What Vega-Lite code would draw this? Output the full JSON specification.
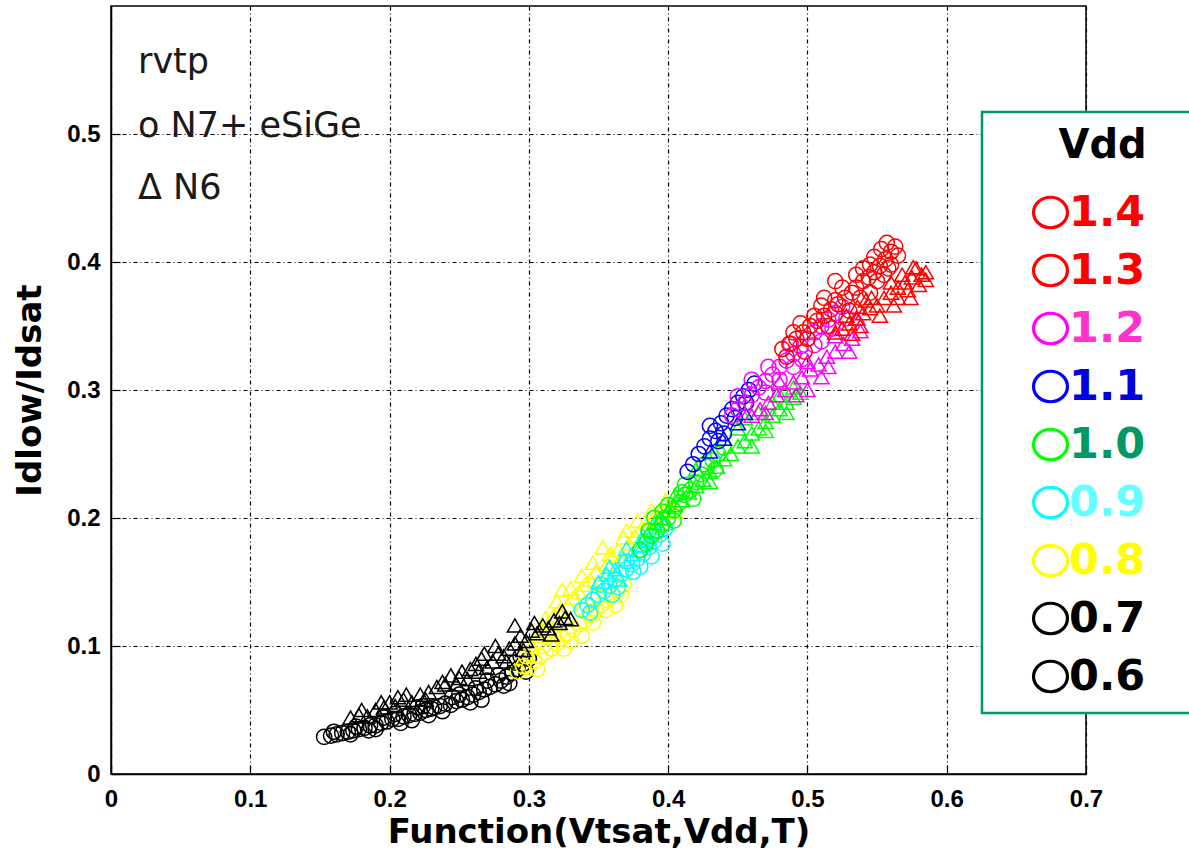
{
  "$schema": "https://vega.github.io/schema/vega-lite/v6.json",
  "width": 975,
  "height": 768,
  "autosize": {"type": "none"},
  "padding": {"left": 111, "top": 6, "right": 103, "bottom": 83},
  "background": "white",
  "config": {
    "view": {"stroke": "black", "strokeWidth": 1.5},
    "legend": {"strokeWidth": 2.5},
    "axis": {
      "domainColor": "black", "domainWidth": 1.5,
      "grid": true, "gridColor": "black", "gridDash": [4, 3, 1, 3], "gridWidth": 1.2, "gridOpacity": 1,
      "ticks": true, "tickSize": -9, "tickColor": "black", "tickWidth": 1.2,
      "labelFont": "Liberation Sans", "labelFontSize": 24, "labelFontWeight": "bold", "labelColor": "black",
      "labelFlush": false, "labelOverlap": false,
      "titleFont": "DejaVu Sans", "titleFontSize": 34, "titleFontWeight": "bold", "titleColor": "black"
    }
  },
  "layer": [
    {
      "data": {"values": [
        {"vdd":"0.6","dev":"N7+ eSiGe","x":0.153,"y":0.029},{"vdd":"0.6","dev":"N7+ eSiGe","x":0.158,"y":0.030},{"vdd":"0.6","dev":"N7+ eSiGe","x":0.162,"y":0.031},{"vdd":"0.6","dev":"N7+ eSiGe","x":0.166,"y":0.032},{"vdd":"0.6","dev":"N7+ eSiGe","x":0.170,"y":0.033},{"vdd":"0.6","dev":"N7+ eSiGe","x":0.174,"y":0.034},{"vdd":"0.6","dev":"N7+ eSiGe","x":0.178,"y":0.035},{"vdd":"0.6","dev":"N7+ eSiGe","x":0.182,"y":0.036},{"vdd":"0.6","dev":"N7+ eSiGe","x":0.186,"y":0.038},{"vdd":"0.6","dev":"N7+ eSiGe","x":0.190,"y":0.038},{"vdd":"0.6","dev":"N7+ eSiGe","x":0.194,"y":0.040},{"vdd":"0.6","dev":"N7+ eSiGe","x":0.198,"y":0.041},{"vdd":"0.6","dev":"N7+ eSiGe","x":0.202,"y":0.043},{"vdd":"0.6","dev":"N7+ eSiGe","x":0.206,"y":0.043},{"vdd":"0.6","dev":"N7+ eSiGe","x":0.210,"y":0.045},{"vdd":"0.6","dev":"N7+ eSiGe","x":0.214,"y":0.046},{"vdd":"0.6","dev":"N7+ eSiGe","x":0.218,"y":0.047},{"vdd":"0.6","dev":"N7+ eSiGe","x":0.222,"y":0.048},{"vdd":"0.6","dev":"N7+ eSiGe","x":0.226,"y":0.050},{"vdd":"0.6","dev":"N7+ eSiGe","x":0.230,"y":0.051},{"vdd":"0.6","dev":"N7+ eSiGe","x":0.172,"y":0.031},{"vdd":"0.6","dev":"N7+ eSiGe","x":0.185,"y":0.034},{"vdd":"0.6","dev":"N7+ eSiGe","x":0.196,"y":0.044},{"vdd":"0.6","dev":"N7+ eSiGe","x":0.208,"y":0.040},{"vdd":"0.6","dev":"N7+ eSiGe","x":0.220,"y":0.052},{"vdd":"0.6","dev":"N7+ eSiGe","x":0.228,"y":0.046},{"vdd":"0.6","dev":"N7+ eSiGe","x":0.160,"y":0.033},{"vdd":"0.6","dev":"N7+ eSiGe","x":0.176,"y":0.037},{"vdd":"0.6","dev":"N7+ eSiGe","x":0.190,"y":0.035},{"vdd":"0.6","dev":"N7+ eSiGe","x":0.204,"y":0.047},{"vdd":"0.6","dev":"N7+ eSiGe","x":0.216,"y":0.042},{"vdd":"0.6","dev":"N7+ eSiGe","x":0.224,"y":0.053},
        {"vdd":"0.6","dev":"N6","x":0.172,"y":0.044},{"vdd":"0.6","dev":"N6","x":0.178,"y":0.046},{"vdd":"0.6","dev":"N6","x":0.184,"y":0.045},{"vdd":"0.6","dev":"N6","x":0.190,"y":0.050},{"vdd":"0.6","dev":"N6","x":0.196,"y":0.052},{"vdd":"0.6","dev":"N6","x":0.200,"y":0.056},{"vdd":"0.6","dev":"N6","x":0.204,"y":0.053},{"vdd":"0.6","dev":"N6","x":0.210,"y":0.058},{"vdd":"0.6","dev":"N6","x":0.216,"y":0.056},{"vdd":"0.6","dev":"N6","x":0.222,"y":0.062},{"vdd":"0.6","dev":"N6","x":0.228,"y":0.064},{"vdd":"0.6","dev":"N6","x":0.234,"y":0.068},{"vdd":"0.6","dev":"N6","x":0.238,"y":0.072},{"vdd":"0.6","dev":"N6","x":0.244,"y":0.077},{"vdd":"0.6","dev":"N6","x":0.248,"y":0.070},{"vdd":"0.6","dev":"N6","x":0.252,"y":0.080},{"vdd":"0.6","dev":"N6","x":0.256,"y":0.074},{"vdd":"0.6","dev":"N6","x":0.206,"y":0.060},{"vdd":"0.6","dev":"N6","x":0.180,"y":0.050},{"vdd":"0.6","dev":"N6","x":0.194,"y":0.056},{"vdd":"0.6","dev":"N6","x":0.212,"y":0.062},{"vdd":"0.6","dev":"N6","x":0.226,"y":0.058},{"vdd":"0.6","dev":"N6","x":0.240,"y":0.070},{"vdd":"0.6","dev":"N6","x":0.250,"y":0.075},
        {"vdd":"0.7","dev":"N7+ eSiGe","x":0.232,"y":0.052},{"vdd":"0.7","dev":"N7+ eSiGe","x":0.236,"y":0.053},{"vdd":"0.7","dev":"N7+ eSiGe","x":0.240,"y":0.055},{"vdd":"0.7","dev":"N7+ eSiGe","x":0.244,"y":0.054},{"vdd":"0.7","dev":"N7+ eSiGe","x":0.248,"y":0.057},{"vdd":"0.7","dev":"N7+ eSiGe","x":0.252,"y":0.058},{"vdd":"0.7","dev":"N7+ eSiGe","x":0.256,"y":0.060},{"vdd":"0.7","dev":"N7+ eSiGe","x":0.260,"y":0.062},{"vdd":"0.7","dev":"N7+ eSiGe","x":0.264,"y":0.064},{"vdd":"0.7","dev":"N7+ eSiGe","x":0.268,"y":0.066},{"vdd":"0.7","dev":"N7+ eSiGe","x":0.272,"y":0.068},{"vdd":"0.7","dev":"N7+ eSiGe","x":0.276,"y":0.070},{"vdd":"0.7","dev":"N7+ eSiGe","x":0.280,"y":0.073},{"vdd":"0.7","dev":"N7+ eSiGe","x":0.284,"y":0.076},{"vdd":"0.7","dev":"N7+ eSiGe","x":0.288,"y":0.079},{"vdd":"0.7","dev":"N7+ eSiGe","x":0.292,"y":0.082},{"vdd":"0.7","dev":"N7+ eSiGe","x":0.296,"y":0.086},{"vdd":"0.7","dev":"N7+ eSiGe","x":0.300,"y":0.090},{"vdd":"0.7","dev":"N7+ eSiGe","x":0.245,"y":0.060},{"vdd":"0.7","dev":"N7+ eSiGe","x":0.258,"y":0.056},{"vdd":"0.7","dev":"N7+ eSiGe","x":0.270,"y":0.073},{"vdd":"0.7","dev":"N7+ eSiGe","x":0.282,"y":0.069},{"vdd":"0.7","dev":"N7+ eSiGe","x":0.290,"y":0.087},{"vdd":"0.7","dev":"N7+ eSiGe","x":0.262,"y":0.067},{"vdd":"0.7","dev":"N7+ eSiGe","x":0.238,"y":0.049},{"vdd":"0.7","dev":"N7+ eSiGe","x":0.250,"y":0.062},{"vdd":"0.7","dev":"N7+ eSiGe","x":0.266,"y":0.058},{"vdd":"0.7","dev":"N7+ eSiGe","x":0.278,"y":0.077},{"vdd":"0.7","dev":"N7+ eSiGe","x":0.286,"y":0.071},{"vdd":"0.7","dev":"N7+ eSiGe","x":0.294,"y":0.092},{"vdd":"0.7","dev":"N7+ eSiGe","x":0.298,"y":0.080},
        {"vdd":"0.8","dev":"N7+ eSiGe","x":0.292,"y":0.080},{"vdd":"0.8","dev":"N7+ eSiGe","x":0.296,"y":0.084},{"vdd":"0.8","dev":"N7+ eSiGe","x":0.300,"y":0.083},{"vdd":"0.8","dev":"N7+ eSiGe","x":0.304,"y":0.088},{"vdd":"0.8","dev":"N7+ eSiGe","x":0.308,"y":0.092},{"vdd":"0.8","dev":"N7+ eSiGe","x":0.312,"y":0.095},{"vdd":"0.8","dev":"N7+ eSiGe","x":0.316,"y":0.098},{"vdd":"0.8","dev":"N7+ eSiGe","x":0.320,"y":0.102},{"vdd":"0.8","dev":"N7+ eSiGe","x":0.324,"y":0.106},{"vdd":"0.8","dev":"N7+ eSiGe","x":0.328,"y":0.110},{"vdd":"0.8","dev":"N7+ eSiGe","x":0.332,"y":0.113},{"vdd":"0.8","dev":"N7+ eSiGe","x":0.336,"y":0.117},{"vdd":"0.8","dev":"N7+ eSiGe","x":0.340,"y":0.120},{"vdd":"0.8","dev":"N7+ eSiGe","x":0.344,"y":0.124},{"vdd":"0.8","dev":"N7+ eSiGe","x":0.348,"y":0.128},{"vdd":"0.8","dev":"N7+ eSiGe","x":0.352,"y":0.132},{"vdd":"0.8","dev":"N7+ eSiGe","x":0.356,"y":0.136},{"vdd":"0.8","dev":"N7+ eSiGe","x":0.360,"y":0.140},{"vdd":"0.8","dev":"N7+ eSiGe","x":0.364,"y":0.144},{"vdd":"0.8","dev":"N7+ eSiGe","x":0.368,"y":0.148},{"vdd":"0.8","dev":"N7+ eSiGe","x":0.310,"y":0.100},{"vdd":"0.8","dev":"N7+ eSiGe","x":0.325,"y":0.098},{"vdd":"0.8","dev":"N7+ eSiGe","x":0.340,"y":0.128},{"vdd":"0.8","dev":"N7+ eSiGe","x":0.355,"y":0.128},{"vdd":"0.8","dev":"N7+ eSiGe","x":0.298,"y":0.092},{"vdd":"0.8","dev":"N7+ eSiGe","x":0.306,"y":0.082},{"vdd":"0.8","dev":"N7+ eSiGe","x":0.318,"y":0.108},{"vdd":"0.8","dev":"N7+ eSiGe","x":0.330,"y":0.104},{"vdd":"0.8","dev":"N7+ eSiGe","x":0.338,"y":0.108},{"vdd":"0.8","dev":"N7+ eSiGe","x":0.346,"y":0.118},{"vdd":"0.8","dev":"N7+ eSiGe","x":0.350,"y":0.138},{"vdd":"0.8","dev":"N7+ eSiGe","x":0.362,"y":0.132},{"vdd":"0.8","dev":"N7+ eSiGe","x":0.366,"y":0.140},
        {"vdd":"0.8","dev":"N6","x":0.302,"y":0.100},{"vdd":"0.8","dev":"N6","x":0.306,"y":0.108},{"vdd":"0.8","dev":"N6","x":0.310,"y":0.112},{"vdd":"0.8","dev":"N6","x":0.314,"y":0.118},{"vdd":"0.8","dev":"N6","x":0.318,"y":0.124},{"vdd":"0.8","dev":"N6","x":0.322,"y":0.128},{"vdd":"0.8","dev":"N6","x":0.324,"y":0.144},{"vdd":"0.8","dev":"N6","x":0.328,"y":0.132},{"vdd":"0.8","dev":"N6","x":0.332,"y":0.138},{"vdd":"0.8","dev":"N6","x":0.336,"y":0.142},{"vdd":"0.8","dev":"N6","x":0.340,"y":0.148},{"vdd":"0.8","dev":"N6","x":0.344,"y":0.152},{"vdd":"0.8","dev":"N6","x":0.348,"y":0.158},{"vdd":"0.8","dev":"N6","x":0.353,"y":0.177},{"vdd":"0.8","dev":"N6","x":0.356,"y":0.164},{"vdd":"0.8","dev":"N6","x":0.360,"y":0.170},{"vdd":"0.8","dev":"N6","x":0.364,"y":0.175},{"vdd":"0.8","dev":"N6","x":0.368,"y":0.185},{"vdd":"0.8","dev":"N6","x":0.372,"y":0.180},{"vdd":"0.8","dev":"N6","x":0.376,"y":0.186},{"vdd":"0.8","dev":"N6","x":0.380,"y":0.190},{"vdd":"0.8","dev":"N6","x":0.385,"y":0.195},{"vdd":"0.8","dev":"N6","x":0.390,"y":0.200},{"vdd":"0.8","dev":"N6","x":0.395,"y":0.205},{"vdd":"0.8","dev":"N6","x":0.400,"y":0.210},{"vdd":"0.8","dev":"N6","x":0.405,"y":0.205},{"vdd":"0.8","dev":"N6","x":0.410,"y":0.214},{"vdd":"0.8","dev":"N6","x":0.312,"y":0.122},{"vdd":"0.8","dev":"N6","x":0.320,"y":0.135},{"vdd":"0.8","dev":"N6","x":0.330,"y":0.145},{"vdd":"0.8","dev":"N6","x":0.338,"y":0.155},{"vdd":"0.8","dev":"N6","x":0.346,"y":0.165},{"vdd":"0.8","dev":"N6","x":0.358,"y":0.172},{"vdd":"0.8","dev":"N6","x":0.370,"y":0.190},{"vdd":"0.8","dev":"N6","x":0.378,"y":0.198},{"vdd":"0.8","dev":"N6","x":0.388,"y":0.206},{"vdd":"0.8","dev":"N6","x":0.398,"y":0.214},
        {"vdd":"0.7","dev":"N6","x":0.258,"y":0.082},{"vdd":"0.7","dev":"N6","x":0.262,"y":0.086},{"vdd":"0.7","dev":"N6","x":0.266,"y":0.090},{"vdd":"0.7","dev":"N6","x":0.270,"y":0.083},{"vdd":"0.7","dev":"N6","x":0.274,"y":0.088},{"vdd":"0.7","dev":"N6","x":0.278,"y":0.094},{"vdd":"0.7","dev":"N6","x":0.282,"y":0.092},{"vdd":"0.7","dev":"N6","x":0.286,"y":0.098},{"vdd":"0.7","dev":"N6","x":0.290,"y":0.102},{"vdd":"0.7","dev":"N6","x":0.294,"y":0.108},{"vdd":"0.7","dev":"N6","x":0.298,"y":0.104},{"vdd":"0.7","dev":"N6","x":0.302,"y":0.112},{"vdd":"0.7","dev":"N6","x":0.306,"y":0.110},{"vdd":"0.7","dev":"N6","x":0.310,"y":0.116},{"vdd":"0.7","dev":"N6","x":0.314,"y":0.114},{"vdd":"0.7","dev":"N6","x":0.318,"y":0.120},{"vdd":"0.7","dev":"N6","x":0.322,"y":0.118},{"vdd":"0.7","dev":"N6","x":0.326,"y":0.122},{"vdd":"0.7","dev":"N6","x":0.330,"y":0.121},{"vdd":"0.7","dev":"N6","x":0.290,"y":0.116},{"vdd":"0.7","dev":"N6","x":0.268,"y":0.094},{"vdd":"0.7","dev":"N6","x":0.264,"y":0.080},{"vdd":"0.7","dev":"N6","x":0.276,"y":0.100},{"vdd":"0.7","dev":"N6","x":0.284,"y":0.088},{"vdd":"0.7","dev":"N6","x":0.296,"y":0.097},{"vdd":"0.7","dev":"N6","x":0.304,"y":0.118},{"vdd":"0.7","dev":"N6","x":0.316,"y":0.109},{"vdd":"0.7","dev":"N6","x":0.324,"y":0.127},
        {"vdd":"0.9","dev":"N7+ eSiGe","x":0.338,"y":0.128},{"vdd":"0.9","dev":"N7+ eSiGe","x":0.342,"y":0.132},{"vdd":"0.9","dev":"N7+ eSiGe","x":0.346,"y":0.136},{"vdd":"0.9","dev":"N7+ eSiGe","x":0.350,"y":0.140},{"vdd":"0.9","dev":"N7+ eSiGe","x":0.354,"y":0.143},{"vdd":"0.9","dev":"N7+ eSiGe","x":0.358,"y":0.147},{"vdd":"0.9","dev":"N7+ eSiGe","x":0.362,"y":0.152},{"vdd":"0.9","dev":"N7+ eSiGe","x":0.366,"y":0.156},{"vdd":"0.9","dev":"N7+ eSiGe","x":0.370,"y":0.160},{"vdd":"0.9","dev":"N7+ eSiGe","x":0.374,"y":0.164},{"vdd":"0.9","dev":"N7+ eSiGe","x":0.378,"y":0.168},{"vdd":"0.9","dev":"N7+ eSiGe","x":0.382,"y":0.172},{"vdd":"0.9","dev":"N7+ eSiGe","x":0.386,"y":0.177},{"vdd":"0.9","dev":"N7+ eSiGe","x":0.390,"y":0.182},{"vdd":"0.9","dev":"N7+ eSiGe","x":0.394,"y":0.187},{"vdd":"0.9","dev":"N7+ eSiGe","x":0.398,"y":0.192},{"vdd":"0.9","dev":"N7+ eSiGe","x":0.360,"y":0.140},{"vdd":"0.9","dev":"N7+ eSiGe","x":0.375,"y":0.158},{"vdd":"0.9","dev":"N7+ eSiGe","x":0.388,"y":0.170},{"vdd":"0.9","dev":"N7+ eSiGe","x":0.344,"y":0.126},{"vdd":"0.9","dev":"N7+ eSiGe","x":0.352,"y":0.148},{"vdd":"0.9","dev":"N7+ eSiGe","x":0.364,"y":0.146},{"vdd":"0.9","dev":"N7+ eSiGe","x":0.370,"y":0.166},{"vdd":"0.9","dev":"N7+ eSiGe","x":0.380,"y":0.162},{"vdd":"0.9","dev":"N7+ eSiGe","x":0.384,"y":0.182},{"vdd":"0.9","dev":"N7+ eSiGe","x":0.396,"y":0.180},
        {"vdd":"0.9","dev":"N6","x":0.350,"y":0.150},{"vdd":"0.9","dev":"N6","x":0.356,"y":0.156},{"vdd":"0.9","dev":"N6","x":0.362,"y":0.160},{"vdd":"0.9","dev":"N6","x":0.368,"y":0.168},{"vdd":"0.9","dev":"N6","x":0.374,"y":0.172},{"vdd":"0.9","dev":"N6","x":0.380,"y":0.178},{"vdd":"0.9","dev":"N6","x":0.386,"y":0.184},{"vdd":"0.9","dev":"N6","x":0.392,"y":0.190},{"vdd":"0.9","dev":"N6","x":0.398,"y":0.196},{"vdd":"0.9","dev":"N6","x":0.365,"y":0.152},{"vdd":"0.9","dev":"N6","x":0.358,"y":0.162},{"vdd":"0.9","dev":"N6","x":0.370,"y":0.176},{"vdd":"0.9","dev":"N6","x":0.382,"y":0.186},{"vdd":"0.9","dev":"N6","x":0.394,"y":0.200},
        {"vdd":"1.0","dev":"N7+ eSiGe","x":0.380,"y":0.175},{"vdd":"1.0","dev":"N7+ eSiGe","x":0.384,"y":0.180},{"vdd":"1.0","dev":"N7+ eSiGe","x":0.388,"y":0.186},{"vdd":"1.0","dev":"N7+ eSiGe","x":0.392,"y":0.190},{"vdd":"1.0","dev":"N7+ eSiGe","x":0.396,"y":0.195},{"vdd":"1.0","dev":"N7+ eSiGe","x":0.400,"y":0.200},{"vdd":"1.0","dev":"N7+ eSiGe","x":0.404,"y":0.206},{"vdd":"1.0","dev":"N7+ eSiGe","x":0.408,"y":0.212},{"vdd":"1.0","dev":"N7+ eSiGe","x":0.412,"y":0.218},{"vdd":"1.0","dev":"N7+ eSiGe","x":0.416,"y":0.222},{"vdd":"1.0","dev":"N7+ eSiGe","x":0.420,"y":0.228},{"vdd":"1.0","dev":"N7+ eSiGe","x":0.424,"y":0.234},{"vdd":"1.0","dev":"N7+ eSiGe","x":0.428,"y":0.240},{"vdd":"1.0","dev":"N7+ eSiGe","x":0.432,"y":0.245},{"vdd":"1.0","dev":"N7+ eSiGe","x":0.436,"y":0.250},{"vdd":"1.0","dev":"N7+ eSiGe","x":0.440,"y":0.255},{"vdd":"1.0","dev":"N7+ eSiGe","x":0.400,"y":0.210},{"vdd":"1.0","dev":"N7+ eSiGe","x":0.412,"y":0.226},{"vdd":"1.0","dev":"N7+ eSiGe","x":0.390,"y":0.200},{"vdd":"1.0","dev":"N7+ eSiGe","x":0.386,"y":0.190},{"vdd":"1.0","dev":"N7+ eSiGe","x":0.396,"y":0.205},{"vdd":"1.0","dev":"N7+ eSiGe","x":0.404,"y":0.198},{"vdd":"1.0","dev":"N7+ eSiGe","x":0.410,"y":0.220},{"vdd":"1.0","dev":"N7+ eSiGe","x":0.418,"y":0.215},{"vdd":"1.0","dev":"N7+ eSiGe","x":0.426,"y":0.242},{"vdd":"1.0","dev":"N7+ eSiGe","x":0.434,"y":0.238},
        {"vdd":"1.0","dev":"N6","x":0.390,"y":0.196},{"vdd":"1.0","dev":"N6","x":0.395,"y":0.200},{"vdd":"1.0","dev":"N6","x":0.400,"y":0.206},{"vdd":"1.0","dev":"N6","x":0.405,"y":0.210},{"vdd":"1.0","dev":"N6","x":0.410,"y":0.214},{"vdd":"1.0","dev":"N6","x":0.415,"y":0.220},{"vdd":"1.0","dev":"N6","x":0.420,"y":0.225},{"vdd":"1.0","dev":"N6","x":0.425,"y":0.230},{"vdd":"1.0","dev":"N6","x":0.430,"y":0.236},{"vdd":"1.0","dev":"N6","x":0.435,"y":0.240},{"vdd":"1.0","dev":"N6","x":0.440,"y":0.246},{"vdd":"1.0","dev":"N6","x":0.445,"y":0.250},{"vdd":"1.0","dev":"N6","x":0.450,"y":0.256},{"vdd":"1.0","dev":"N6","x":0.455,"y":0.260},{"vdd":"1.0","dev":"N6","x":0.460,"y":0.266},{"vdd":"1.0","dev":"N6","x":0.465,"y":0.270},{"vdd":"1.0","dev":"N6","x":0.470,"y":0.275},{"vdd":"1.0","dev":"N6","x":0.475,"y":0.280},{"vdd":"1.0","dev":"N6","x":0.480,"y":0.285},{"vdd":"1.0","dev":"N6","x":0.485,"y":0.290},{"vdd":"1.0","dev":"N6","x":0.490,"y":0.294},{"vdd":"1.0","dev":"N6","x":0.495,"y":0.298},{"vdd":"1.0","dev":"N6","x":0.430,"y":0.228},{"vdd":"1.0","dev":"N6","x":0.460,"y":0.256},{"vdd":"1.0","dev":"N6","x":0.470,"y":0.268},{"vdd":"1.0","dev":"N6","x":0.485,"y":0.282},{"vdd":"1.0","dev":"N6","x":0.440,"y":0.262},{"vdd":"1.0","dev":"N6","x":0.450,"y":0.270},{"vdd":"1.0","dev":"N6","x":0.455,"y":0.278},{"vdd":"1.0","dev":"N6","x":0.465,"y":0.282},{"vdd":"1.0","dev":"N6","x":0.475,"y":0.290},{"vdd":"1.0","dev":"N6","x":0.480,"y":0.296},{"vdd":"1.0","dev":"N6","x":0.490,"y":0.302},{"vdd":"1.0","dev":"N6","x":0.420,"y":0.238},{"vdd":"1.0","dev":"N6","x":0.405,"y":0.218},
        {"vdd":"1.1","dev":"N7+ eSiGe","x":0.414,"y":0.236},{"vdd":"1.1","dev":"N7+ eSiGe","x":0.418,"y":0.242},{"vdd":"1.1","dev":"N7+ eSiGe","x":0.422,"y":0.250},{"vdd":"1.1","dev":"N7+ eSiGe","x":0.426,"y":0.256},{"vdd":"1.1","dev":"N7+ eSiGe","x":0.430,"y":0.262},{"vdd":"1.1","dev":"N7+ eSiGe","x":0.434,"y":0.268},{"vdd":"1.1","dev":"N7+ eSiGe","x":0.438,"y":0.274},{"vdd":"1.1","dev":"N7+ eSiGe","x":0.442,"y":0.280},{"vdd":"1.1","dev":"N7+ eSiGe","x":0.446,"y":0.285},{"vdd":"1.1","dev":"N7+ eSiGe","x":0.450,"y":0.290},{"vdd":"1.1","dev":"N7+ eSiGe","x":0.454,"y":0.295},{"vdd":"1.1","dev":"N7+ eSiGe","x":0.458,"y":0.300},{"vdd":"1.1","dev":"N7+ eSiGe","x":0.462,"y":0.305},{"vdd":"1.1","dev":"N7+ eSiGe","x":0.440,"y":0.266},{"vdd":"1.1","dev":"N7+ eSiGe","x":0.448,"y":0.278},{"vdd":"1.1","dev":"N7+ eSiGe","x":0.430,"y":0.272},{"vdd":"1.1","dev":"N7+ eSiGe","x":0.456,"y":0.290},{"vdd":"1.1","dev":"N7+ eSiGe","x":0.436,"y":0.260},
        {"vdd":"1.1","dev":"N6","x":0.430,"y":0.252},{"vdd":"1.1","dev":"N6","x":0.440,"y":0.262},{"vdd":"1.1","dev":"N6","x":0.450,"y":0.274},{"vdd":"1.1","dev":"N6","x":0.455,"y":0.282},
        {"vdd":"1.2","dev":"N7+ eSiGe","x":0.446,"y":0.280},{"vdd":"1.2","dev":"N7+ eSiGe","x":0.450,"y":0.285},{"vdd":"1.2","dev":"N7+ eSiGe","x":0.455,"y":0.290},{"vdd":"1.2","dev":"N7+ eSiGe","x":0.460,"y":0.296},{"vdd":"1.2","dev":"N7+ eSiGe","x":0.465,"y":0.302},{"vdd":"1.2","dev":"N7+ eSiGe","x":0.470,"y":0.307},{"vdd":"1.2","dev":"N7+ eSiGe","x":0.475,"y":0.312},{"vdd":"1.2","dev":"N7+ eSiGe","x":0.480,"y":0.318},{"vdd":"1.2","dev":"N7+ eSiGe","x":0.485,"y":0.323},{"vdd":"1.2","dev":"N7+ eSiGe","x":0.490,"y":0.328},{"vdd":"1.2","dev":"N7+ eSiGe","x":0.495,"y":0.334},{"vdd":"1.2","dev":"N7+ eSiGe","x":0.500,"y":0.340},{"vdd":"1.2","dev":"N7+ eSiGe","x":0.505,"y":0.345},{"vdd":"1.2","dev":"N7+ eSiGe","x":0.510,"y":0.350},{"vdd":"1.2","dev":"N7+ eSiGe","x":0.515,"y":0.355},{"vdd":"1.2","dev":"N7+ eSiGe","x":0.520,"y":0.360},{"vdd":"1.2","dev":"N7+ eSiGe","x":0.525,"y":0.365},{"vdd":"1.2","dev":"N7+ eSiGe","x":0.470,"y":0.298},{"vdd":"1.2","dev":"N7+ eSiGe","x":0.490,"y":0.318},{"vdd":"1.2","dev":"N7+ eSiGe","x":0.505,"y":0.335},{"vdd":"1.2","dev":"N7+ eSiGe","x":0.450,"y":0.295},{"vdd":"1.2","dev":"N7+ eSiGe","x":0.460,"y":0.308},{"vdd":"1.2","dev":"N7+ eSiGe","x":0.472,"y":0.318},{"vdd":"1.2","dev":"N7+ eSiGe","x":0.480,"y":0.308},{"vdd":"1.2","dev":"N7+ eSiGe","x":0.488,"y":0.336},{"vdd":"1.2","dev":"N7+ eSiGe","x":0.496,"y":0.324},{"vdd":"1.2","dev":"N7+ eSiGe","x":0.510,"y":0.338},{"vdd":"1.2","dev":"N7+ eSiGe","x":0.518,"y":0.348},{"vdd":"1.2","dev":"N7+ eSiGe","x":0.528,"y":0.356},
        {"vdd":"1.2","dev":"N6","x":0.460,"y":0.280},{"vdd":"1.2","dev":"N6","x":0.466,"y":0.285},{"vdd":"1.2","dev":"N6","x":0.472,"y":0.290},{"vdd":"1.2","dev":"N6","x":0.478,"y":0.296},{"vdd":"1.2","dev":"N6","x":0.484,"y":0.300},{"vdd":"1.2","dev":"N6","x":0.490,"y":0.306},{"vdd":"1.2","dev":"N6","x":0.496,"y":0.310},{"vdd":"1.2","dev":"N6","x":0.502,"y":0.316},{"vdd":"1.2","dev":"N6","x":0.508,"y":0.320},{"vdd":"1.2","dev":"N6","x":0.514,"y":0.326},{"vdd":"1.2","dev":"N6","x":0.520,"y":0.330},{"vdd":"1.2","dev":"N6","x":0.526,"y":0.336},{"vdd":"1.2","dev":"N6","x":0.532,"y":0.340},{"vdd":"1.2","dev":"N6","x":0.538,"y":0.346},{"vdd":"1.2","dev":"N6","x":0.500,"y":0.300},{"vdd":"1.2","dev":"N6","x":0.515,"y":0.318},{"vdd":"1.2","dev":"N6","x":0.480,"y":0.306},{"vdd":"1.2","dev":"N6","x":0.492,"y":0.296},{"vdd":"1.2","dev":"N6","x":0.500,"y":0.322},{"vdd":"1.2","dev":"N6","x":0.510,"y":0.310},{"vdd":"1.2","dev":"N6","x":0.520,"y":0.342},{"vdd":"1.2","dev":"N6","x":0.530,"y":0.330},{"vdd":"1.2","dev":"N6","x":0.536,"y":0.356},{"vdd":"1.2","dev":"N6","x":0.470,"y":0.282},
        {"vdd":"1.3","dev":"N7+ eSiGe","x":0.482,"y":0.332},{"vdd":"1.3","dev":"N7+ eSiGe","x":0.487,"y":0.336},{"vdd":"1.3","dev":"N7+ eSiGe","x":0.492,"y":0.340},{"vdd":"1.3","dev":"N7+ eSiGe","x":0.497,"y":0.345},{"vdd":"1.3","dev":"N7+ eSiGe","x":0.502,"y":0.350},{"vdd":"1.3","dev":"N7+ eSiGe","x":0.507,"y":0.354},{"vdd":"1.3","dev":"N7+ eSiGe","x":0.512,"y":0.358},{"vdd":"1.3","dev":"N7+ eSiGe","x":0.517,"y":0.363},{"vdd":"1.3","dev":"N7+ eSiGe","x":0.522,"y":0.367},{"vdd":"1.3","dev":"N7+ eSiGe","x":0.527,"y":0.372},{"vdd":"1.3","dev":"N7+ eSiGe","x":0.532,"y":0.376},{"vdd":"1.3","dev":"N7+ eSiGe","x":0.490,"y":0.345},{"vdd":"1.3","dev":"N7+ eSiGe","x":0.505,"y":0.358},{"vdd":"1.3","dev":"N7+ eSiGe","x":0.520,"y":0.370},{"vdd":"1.3","dev":"N7+ eSiGe","x":0.500,"y":0.340},{"vdd":"1.3","dev":"N7+ eSiGe","x":0.485,"y":0.326},{"vdd":"1.3","dev":"N7+ eSiGe","x":0.495,"y":0.352},{"vdd":"1.3","dev":"N7+ eSiGe","x":0.510,"y":0.366},{"vdd":"1.3","dev":"N7+ eSiGe","x":0.515,"y":0.350},{"vdd":"1.3","dev":"N7+ eSiGe","x":0.525,"y":0.380},{"vdd":"1.3","dev":"N7+ eSiGe","x":0.530,"y":0.362},{"vdd":"1.3","dev":"N7+ eSiGe","x":0.498,"y":0.330},{"vdd":"1.3","dev":"N7+ eSiGe","x":0.512,"y":0.372},{"vdd":"1.3","dev":"N7+ eSiGe","x":0.520,"y":0.385},{"vdd":"1.3","dev":"N7+ eSiGe","x":0.535,"y":0.390},
        {"vdd":"1.3","dev":"N6","x":0.520,"y":0.345},{"vdd":"1.3","dev":"N6","x":0.525,"y":0.348},{"vdd":"1.3","dev":"N6","x":0.530,"y":0.352},{"vdd":"1.3","dev":"N6","x":0.535,"y":0.356},{"vdd":"1.3","dev":"N6","x":0.540,"y":0.360},{"vdd":"1.3","dev":"N6","x":0.545,"y":0.364},{"vdd":"1.3","dev":"N6","x":0.550,"y":0.366},{"vdd":"1.3","dev":"N6","x":0.528,"y":0.358},{"vdd":"1.3","dev":"N6","x":0.542,"y":0.370},{"vdd":"1.3","dev":"N6","x":0.532,"y":0.344},{"vdd":"1.3","dev":"N6","x":0.538,"y":0.350},{"vdd":"1.3","dev":"N6","x":0.546,"y":0.372},{"vdd":"1.3","dev":"N6","x":0.552,"y":0.358},{"vdd":"1.3","dev":"N6","x":0.536,"y":0.365},
        {"vdd":"1.4","dev":"N7+ eSiGe","x":0.535,"y":0.380},{"vdd":"1.4","dev":"N7+ eSiGe","x":0.540,"y":0.385},{"vdd":"1.4","dev":"N7+ eSiGe","x":0.544,"y":0.388},{"vdd":"1.4","dev":"N7+ eSiGe","x":0.548,"y":0.392},{"vdd":"1.4","dev":"N7+ eSiGe","x":0.552,"y":0.397},{"vdd":"1.4","dev":"N7+ eSiGe","x":0.556,"y":0.402},{"vdd":"1.4","dev":"N7+ eSiGe","x":0.560,"y":0.408},{"vdd":"1.4","dev":"N7+ eSiGe","x":0.563,"y":0.412},{"vdd":"1.4","dev":"N7+ eSiGe","x":0.553,"y":0.410},{"vdd":"1.4","dev":"N7+ eSiGe","x":0.545,"y":0.398},{"vdd":"1.4","dev":"N7+ eSiGe","x":0.538,"y":0.372},{"vdd":"1.4","dev":"N7+ eSiGe","x":0.550,"y":0.385},{"vdd":"1.4","dev":"N7+ eSiGe","x":0.558,"y":0.395},{"vdd":"1.4","dev":"N7+ eSiGe","x":0.540,"y":0.395},{"vdd":"1.4","dev":"N7+ eSiGe","x":0.548,"y":0.404},{"vdd":"1.4","dev":"N7+ eSiGe","x":0.555,"y":0.390},{"vdd":"1.4","dev":"N7+ eSiGe","x":0.560,"y":0.398},{"vdd":"1.4","dev":"N7+ eSiGe","x":0.565,"y":0.405},{"vdd":"1.4","dev":"N7+ eSiGe","x":0.545,"y":0.376},{"vdd":"1.4","dev":"N7+ eSiGe","x":0.557,"y":0.415},
        {"vdd":"1.4","dev":"N6","x":0.555,"y":0.372},{"vdd":"1.4","dev":"N6","x":0.560,"y":0.376},{"vdd":"1.4","dev":"N6","x":0.565,"y":0.380},{"vdd":"1.4","dev":"N6","x":0.570,"y":0.384},{"vdd":"1.4","dev":"N6","x":0.575,"y":0.388},{"vdd":"1.4","dev":"N6","x":0.578,"y":0.395},{"vdd":"1.4","dev":"N6","x":0.582,"y":0.390},{"vdd":"1.4","dev":"N6","x":0.585,"y":0.386},{"vdd":"1.4","dev":"N6","x":0.572,"y":0.378},{"vdd":"1.4","dev":"N6","x":0.565,"y":0.372},{"vdd":"1.4","dev":"N6","x":0.560,"y":0.384},{"vdd":"1.4","dev":"N6","x":0.568,"y":0.390},{"vdd":"1.4","dev":"N6","x":0.576,"y":0.396},{"vdd":"1.4","dev":"N6","x":0.580,"y":0.382},{"vdd":"1.4","dev":"N6","x":0.574,"y":0.372},{"vdd":"1.4","dev":"N6","x":0.585,"y":0.392},{"vdd":"1.4","dev":"N6","x":0.562,"y":0.366}
      ]},
      "mark": {"type": "point", "filled": false, "size": 230, "opacity": 1},
      "encoding": {
        "x": {"field": "x", "type": "quantitative",
          "scale": {"domain": [0, 0.7], "nice": false, "zero": false},
          "axis": {"values": [0, 0.1, 0.2, 0.3, 0.4, 0.5, 0.6, 0.7], "format": "~g", "labelPadding": 22, "title": "Function(Vtsat,Vdd,T)", "titlePadding": 4}},
        "y": {"field": "y", "type": "quantitative",
          "scale": {"domain": [0, 0.6], "nice": false, "zero": false},
          "axis": {"values": [0, 0.1, 0.2, 0.3, 0.4, 0.5], "format": "~g", "labelPadding": 20, "title": "Idlow/Idsat", "titlePadding": 19}},
        "strokeWidth": {"value": 1.5},
        "color": {"field": "vdd", "type": "nominal",
          "scale": {"domain": ["1.4", "1.3", "1.2", "1.1", "1.0", "0.9", "0.8", "0.7", "0.6"],
                    "range": ["#ff0000", "#ff0000", "#ff00ff", "#0000ff", "#00ff00", "#00ffff", "#ffff00", "#000000", "#000000"]},
          "legend": {
            "orient": "none", "legendX": 871, "legendY": 106,
            "title": "\u2800\u2800Vdd\u2800", "titleFont": "DejaVu Sans", "titleFontSize": 40, "titleFontWeight": "bold", "titleColor": "black",
            "titleAnchor": "start", "titlePadding": 25, "titleLimit": 600,
            "labelFont": "DejaVu Sans", "labelFontSize": 43, "labelFontWeight": "bold",
            "labelColor": {"expr": "datum.value == '1.2' ? '#ff33cc' : datum.value == '1.1' ? '#0000e0' : datum.value == '1.0' ? '#009966' : datum.value == '0.9' ? '#66ffff' : datum.value == '0.8' ? '#ffff00' : (datum.value == '1.4' || datum.value == '1.3') ? '#ff0000' : '#000000'"},
            "symbolType": "M -1 0 A 1 0.9 0 1 0 1 0 A 1 0.9 0 1 0 -1 0 Z",
            "symbolSize": 1150, "symbolStrokeWidth": 3.2, "symbolOffset": 33, "labelOffset": -3, "rowPadding": 13,
            "padding": 14, "strokeColor": "#009966", "fillColor": "white"
          }},
        "shape": {"field": "dev", "type": "nominal",
          "scale": {"domain": ["N7+ eSiGe", "N6"], "range": ["circle", "triangle-up"]},
          "legend": null}
      }
    },
    {
      "data": {"values": [
        {"note": "rvtp", "x": 0.0194, "y": 0.5477},
        {"note": "o N7+ eSiGe", "x": 0.0194, "y": 0.4977},
        {"note": "Δ N6", "x": 0.0194, "y": 0.4492}
      ]},
      "mark": {"type": "text", "align": "left", "baseline": "alphabetic", "font": "DejaVu Sans", "fontSize": 35, "color": "#1a1a1a"},
      "encoding": {
        "x": {"field": "x", "type": "quantitative"},
        "y": {"field": "y", "type": "quantitative"},
        "text": {"field": "note"}
      }
    }
  ]
}
